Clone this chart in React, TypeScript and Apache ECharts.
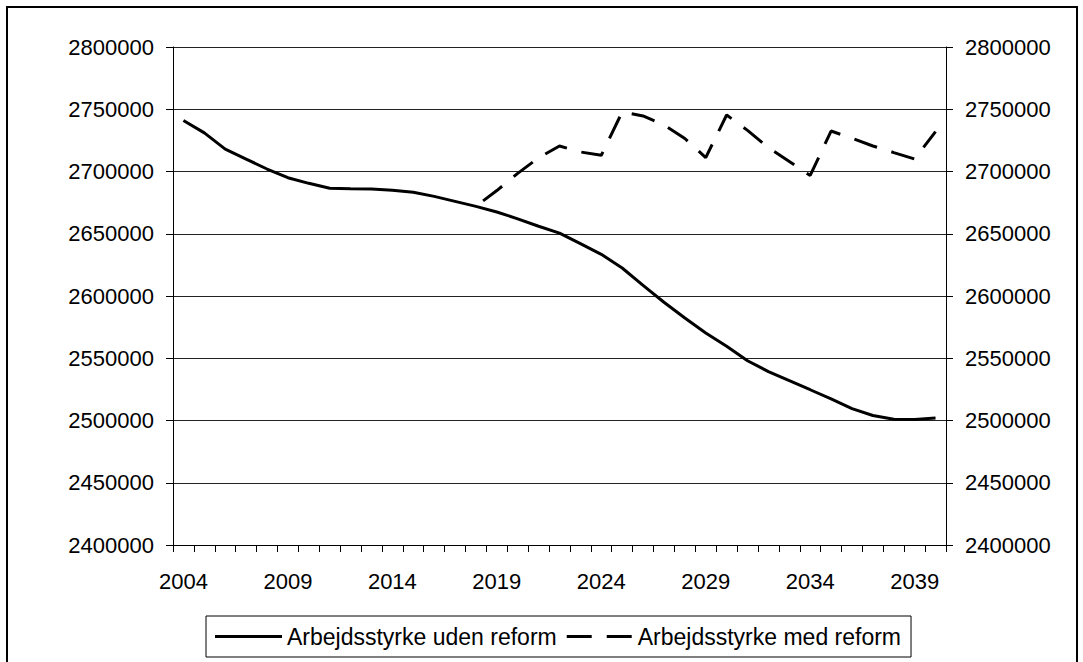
import React, { useEffect, useRef } from "react";
import * as echarts from "echarts";

const years = [
  "2004", "2005", "2006", "2007", "2008", "2009", "2010", "2011", "2012", "2013",
  "2014", "2015", "2016", "2017", "2018", "2019", "2020", "2021", "2022", "2023",
  "2024", "2025", "2026", "2027", "2028", "2029", "2030", "2031", "2032", "2033",
  "2034", "2035", "2036", "2037", "2038", "2039", "2040",
];

const udenReform = [
  2741000, 2731000, 2718000, 2710000, 2702000, 2695000, 2690500, 2686500, 2686200, 2686000,
  2685000, 2683300, 2680000, 2676000, 2672000, 2667500, 2662000, 2656000, 2650500, 2642000,
  2633500, 2622500, 2608500, 2595000, 2582300, 2570300, 2559600, 2548000, 2539300, 2532000,
  2524700, 2517300, 2509500, 2504000, 2501000, 2500800, 2502000,
];

const medReform = [
  null, null, null, null, null, null, null, null, null, null,
  null, null, null, null, 2672000, 2684700, 2698500, 2711000, 2720500, 2715700,
  2713000, 2747800, 2744600, 2737400, 2726500, 2711200, 2745400, 2733000, 2719200, 2708000,
  2696800, 2732500, 2726700, 2720500, 2715200, 2710000, 2732100,
];

const seriesNames = ["Arbejdsstyrke uden reform", "Arbejdsstyrke med reform"];

const yMin = 2400000;
const yMax = 2800000;
const yStep = 50000;

const FONT = "'Liberation Sans', Arial, sans-serif";

export default function App() {
  const ref = useRef<HTMLDivElement>(null);

  useEffect(() => {
    if (!ref.current) return;
    const chart = echarts.init(ref.current, undefined, { renderer: "svg" });
    const yAxisCommon = {
      type: "value" as const,
      min: yMin,
      max: yMax,
      interval: yStep,
      axisLine: { show: true, lineStyle: { color: "#000", width: 1 } },
      axisTick: { show: true, inside: false, length: 7, lineStyle: { color: "#000" } },
      axisLabel: {
        margin: 19,
        color: "#000",
        fontFamily: FONT,
        fontSize: 22,
        formatter: (v: number) => String(v),
      },
    };
    chart.setOption({
      animation: false,
      backgroundColor: "#fff",
      graphic: [
        {
          type: "rect",
          shape: { x: 7, y: 7, width: 1070, height: 700 },
          style: { fill: "none", stroke: "#000", lineWidth: 2 },
          silent: true,
          z: 100,
        },
      ],
      grid: { left: 173, right: 137, top: 47, bottom: 117, containLabel: false },
      xAxis: {
        type: "category",
        data: years,
        boundaryGap: true,
        axisLine: { show: true, lineStyle: { color: "#000", width: 1 } },
        axisTick: { show: true, interval: 0, length: 7, lineStyle: { color: "#000" } },
        axisLabel: {
          interval: 4,
          margin: 25,
          color: "#000",
          fontFamily: FONT,
          fontSize: 22,
          lineHeight: 22,
        },
        splitLine: { show: false },
      },
      yAxis: [
        {
          ...yAxisCommon,
          position: "left",
          splitLine: { show: true, lineStyle: { color: "#222", width: 1 } },
        },
        {
          ...yAxisCommon,
          position: "right",
          splitLine: { show: false },
        },
      ],
      legend: {
        left: 206,
        top: 616,
        orient: "horizontal",
        itemWidth: 67,
        itemHeight: 3,
        itemGap: 10,
        padding: [9, 10, 9, 9],
        borderColor: "#000",
        borderWidth: 1,
        textStyle: { fontFamily: FONT, fontSize: 23, color: "#000", lineHeight: 22 },
        data: [
          { name: seriesNames[0], icon: "rect", itemStyle: { color: "#000" } },
          {
            name: seriesNames[1],
            icon: "path://M0,0H25V3H0Z M40,0H65V3H40Z",
            itemStyle: { color: "#000" },
          },
        ],
      },
      series: [
        {
          name: seriesNames[0],
          type: "line",
          data: udenReform,
          yAxisIndex: 0,
          symbol: "none",
          showSymbol: false,
          smooth: false,
          lineStyle: { color: "#000", width: 3, type: "solid" },
          itemStyle: { color: "#000" },
        },
        {
          name: seriesNames[1],
          type: "line",
          data: medReform,
          yAxisIndex: 0,
          symbol: "none",
          showSymbol: false,
          smooth: false,
          connectNulls: false,
          lineStyle: { color: "#000", width: 3, type: [24, 15], dashOffset: 30 },
          itemStyle: { color: "#000" },
        },
      ],
    });
    return () => chart.dispose();
  }, []);

  return (
    <div
      ref={ref}
      style={{ position: "fixed", left: 0, top: 0, width: 1083, height: 662, background: "#fff" }}
    />
  );
}
